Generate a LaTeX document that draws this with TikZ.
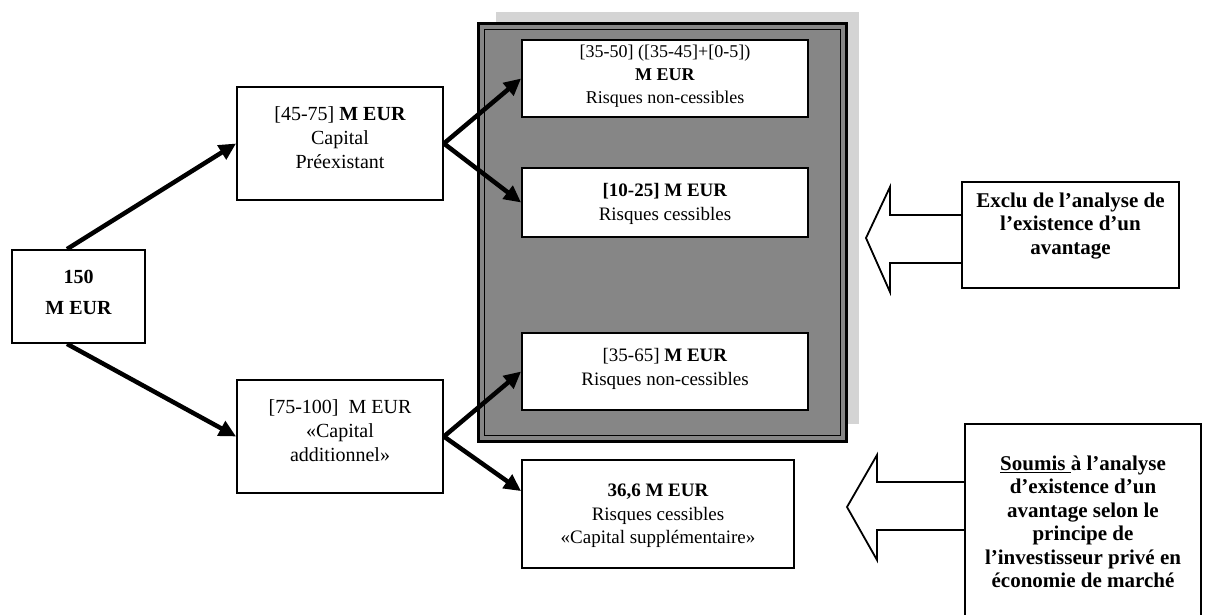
\documentclass[tikz,border=0pt]{standalone}
\usepackage{fontspec}
\setmainfont{Liberation Serif}
\usetikzlibrary{arrows.meta,calc}
\definecolor{framegray}{HTML}{868686}
\definecolor{shadowgray}{HTML}{D4D4D4}
\begin{document}
\begin{tikzpicture}[x=1bp,y=-1bp,
  frame/.style={draw=black,line width=1.8bp,fill=white,inner sep=0pt},
  txt/.style={align=center,inner sep=0pt},
  small/.style={txt,font=\fontsize{18bp}{23bp}\selectfont},
  large/.style={txt,font=\fontsize{19bp}{23.5bp}\selectfont},
  mid/.style={txt,font=\fontsize{20bp}{24bp}\selectfont},
  note/.style={txt,font=\bfseries\fontsize{21bp}{23.5bp}\selectfont},
  link/.style={line width=4.5bp,-{Triangle[length=17bp,width=16bp]}},
  bigarrow/.style={draw=black,line width=1.8bp,fill=white,line join=miter}]
\clip (0,0) rectangle (1206,615);
\fill[white] (0,0) rectangle (1206,615);
% shaded frame
\fill[shadowgray] (496,12) rectangle (859,424);
\fill[framegray] (477,22) rectangle (848,443);
\draw[line width=3bp] (478.5,23.5) rectangle (846.5,441.5);
\draw[line width=1.8bp] (484.5,29.5) rectangle (840.5,435.5);
% boxes
\node[frame,minimum width=133bp,minimum height=93bp] (n150) at (78.5,296.5) {};
\node[txt,font=\bfseries\fontsize{20bp}{31bp}\selectfont] (t150) at (78.5,292) {150\\M EUR};
\node[frame,minimum width=206bp,minimum height=113bp] (pre) at (340,143.5) {};
\node[mid] (tpre) at (340,138) {[45-75] \textbf{M EUR}\\Capital\\Préexistant};
\node[frame,minimum width=206bp,minimum height=113bp] (add) at (340,436.5) {};
\node[mid] (tadd) at (340,431) {[75-100]\ \ M EUR\\«Capital\\additionnel»};
\node[frame,minimum width=286bp,minimum height=77bp] (b1) at (665,78.5) {};
\node[small] (tb1) at (665,76) {[35-50] ([35-45]+[0-5])\\\textbf{M EUR}\\Risques non-cessibles};
\node[frame,minimum width=286bp,minimum height=69bp] (b2) at (665,202.5) {};
\node[large] (tb2) at (665,204) {\textbf{[10-25]} \textbf{M EUR}\\Risques cessibles};
\node[frame,minimum width=286bp,minimum height=77bp] (b3) at (665,371.5) {};
\node[large] (tb3) at (665,369) {[35-65] \textbf{M EUR}\\Risques non-cessibles};
\node[frame,minimum width=272bp,minimum height=108bp] (b4) at (658,514) {};
\node[large] (tb4) at (658,516) {\textbf{36,6 M EUR}\\Risques cessibles\\«Capital supplémentaire»};
% connectors
\coordinate (s1) at ($(n150.north)+(-11.5,0)$);
\coordinate (s2) at ($(n150.south)+(-11.5,0)$);
\coordinate (e4) at ($(b4.north west)+(0,32)$);
\draw[link] (s1) -- (pre.west);
\draw[link] (s2) -- (add.west);
\draw[link] (pre.east) -- (b1.west);
\draw[link] (pre.east) -- (b2.west);
\draw[link] (add.east) -- (b3.west);
\draw[link] (add.east) -- (e4);
% block arrows
\draw[bigarrow] (962,215) -- (890,215) -- (890,187) -- (866,238) -- (890,292) -- (890,263) -- (962,263);
\draw[bigarrow] (965,482) -- (877,482) -- (877,455) -- (847,507) -- (877,560) -- (877,530) -- (965,530);
% notes
\node[frame,minimum width=217bp,minimum height=106bp] (exclu) at (1070.5,235) {};
\node[note] (texclu) at (1070.5,226) {Exclu de l’analyse de\\l’existence d’un\\avantage};
\node[frame,minimum width=236bp,minimum height=196bp] (soumis) at (1083,522) {};
\node[note] (tsoumis) at (1083,522) {\underline{Soumis }à l’analyse\\d’existence d’un\\avantage selon le\\principe de\\l’investisseur privé en\\économie de marché};
\end{tikzpicture}
\end{document}
